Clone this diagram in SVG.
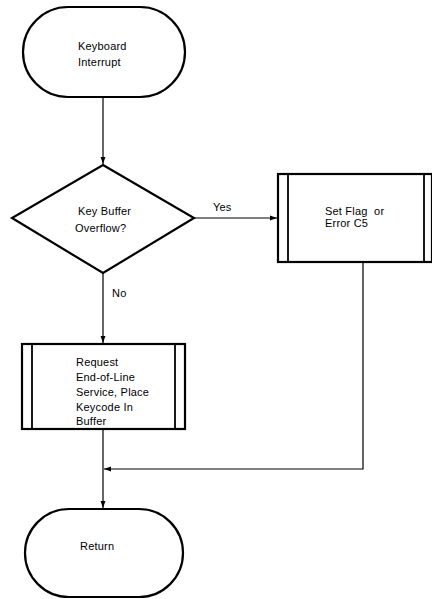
<svg xmlns="http://www.w3.org/2000/svg" width="432" height="599" viewBox="0 0 432 599">
<style>
.node{fill:#fff;stroke:#000;stroke-width:2.2}
.in{stroke:#000;stroke-width:1.8;fill:none}
.conn{stroke:#000;stroke-width:1.2;fill:none}
text{font-family:"Liberation Sans",Arial,sans-serif;font-size:11px;fill:#000;letter-spacing:0.2px}
</style>
<defs>
<marker id="ah" viewBox="0 0 10 10" refX="10" refY="5" markerWidth="7" markerHeight="7" markerUnits="userSpaceOnUse" orient="auto">
<path d="M0,1.5 L10,5 L0,8.5 Z" fill="#000"/>
</marker>
</defs>
<rect width="432" height="599" fill="#fff"/>
<g id="connectors">
<line class="conn" x1="103" y1="97" x2="103" y2="164" marker-end="url(#ah)"/>
<line class="conn" x1="194" y1="218" x2="277" y2="218" marker-end="url(#ah)"/>
<line class="conn" x1="103" y1="273" x2="103" y2="343" marker-end="url(#ah)"/>
<line class="conn" x1="103" y1="429" x2="103" y2="508" marker-end="url(#ah)"/>
<polyline class="conn" points="363,262 363,469 104,469" marker-end="url(#ah)"/>
<text x="213" y="211">Yes</text>
<text x="112" y="297">No</text>
</g>
<g id="start">
<rect class="node" x="23" y="7" width="162" height="90" rx="45" ry="45"/>
<text x="78" y="50">Keyboard</text>
<text x="78" y="66">Interrupt</text>
</g>
<g id="decision">
<polygon class="node" points="103,165 194,218 103,273 12,218"/>
<text x="78" y="215">Key Buffer</text>
<text x="75" y="232">Overflow?</text>
</g>
<g id="setflag">
<rect class="node" x="278" y="174" width="154" height="88"/>
<line class="in" x1="288" y1="174" x2="288" y2="262"/>
<line class="in" x1="424" y1="174" x2="424" y2="262"/>
<text x="325" y="215">Set Flag&#160; or</text>
<text x="325" y="227">Error C5</text>
</g>
<g id="request">
<rect class="node" x="22" y="344" width="163" height="85"/>
<line class="in" x1="32" y1="344" x2="32" y2="429"/>
<line class="in" x1="175" y1="344" x2="175" y2="429"/>
<text x="76" y="366">Request</text>
<text x="76" y="381">End-of-Line</text>
<text x="76" y="396">Service, Place</text>
<text x="76" y="411">Keycode In</text>
<text x="76" y="425">Buffer</text>
</g>
<g id="return">
<rect class="node" x="25" y="509" width="158" height="88" rx="44" ry="44"/>
<text x="80" y="550">Return</text>
</g>
</svg>
